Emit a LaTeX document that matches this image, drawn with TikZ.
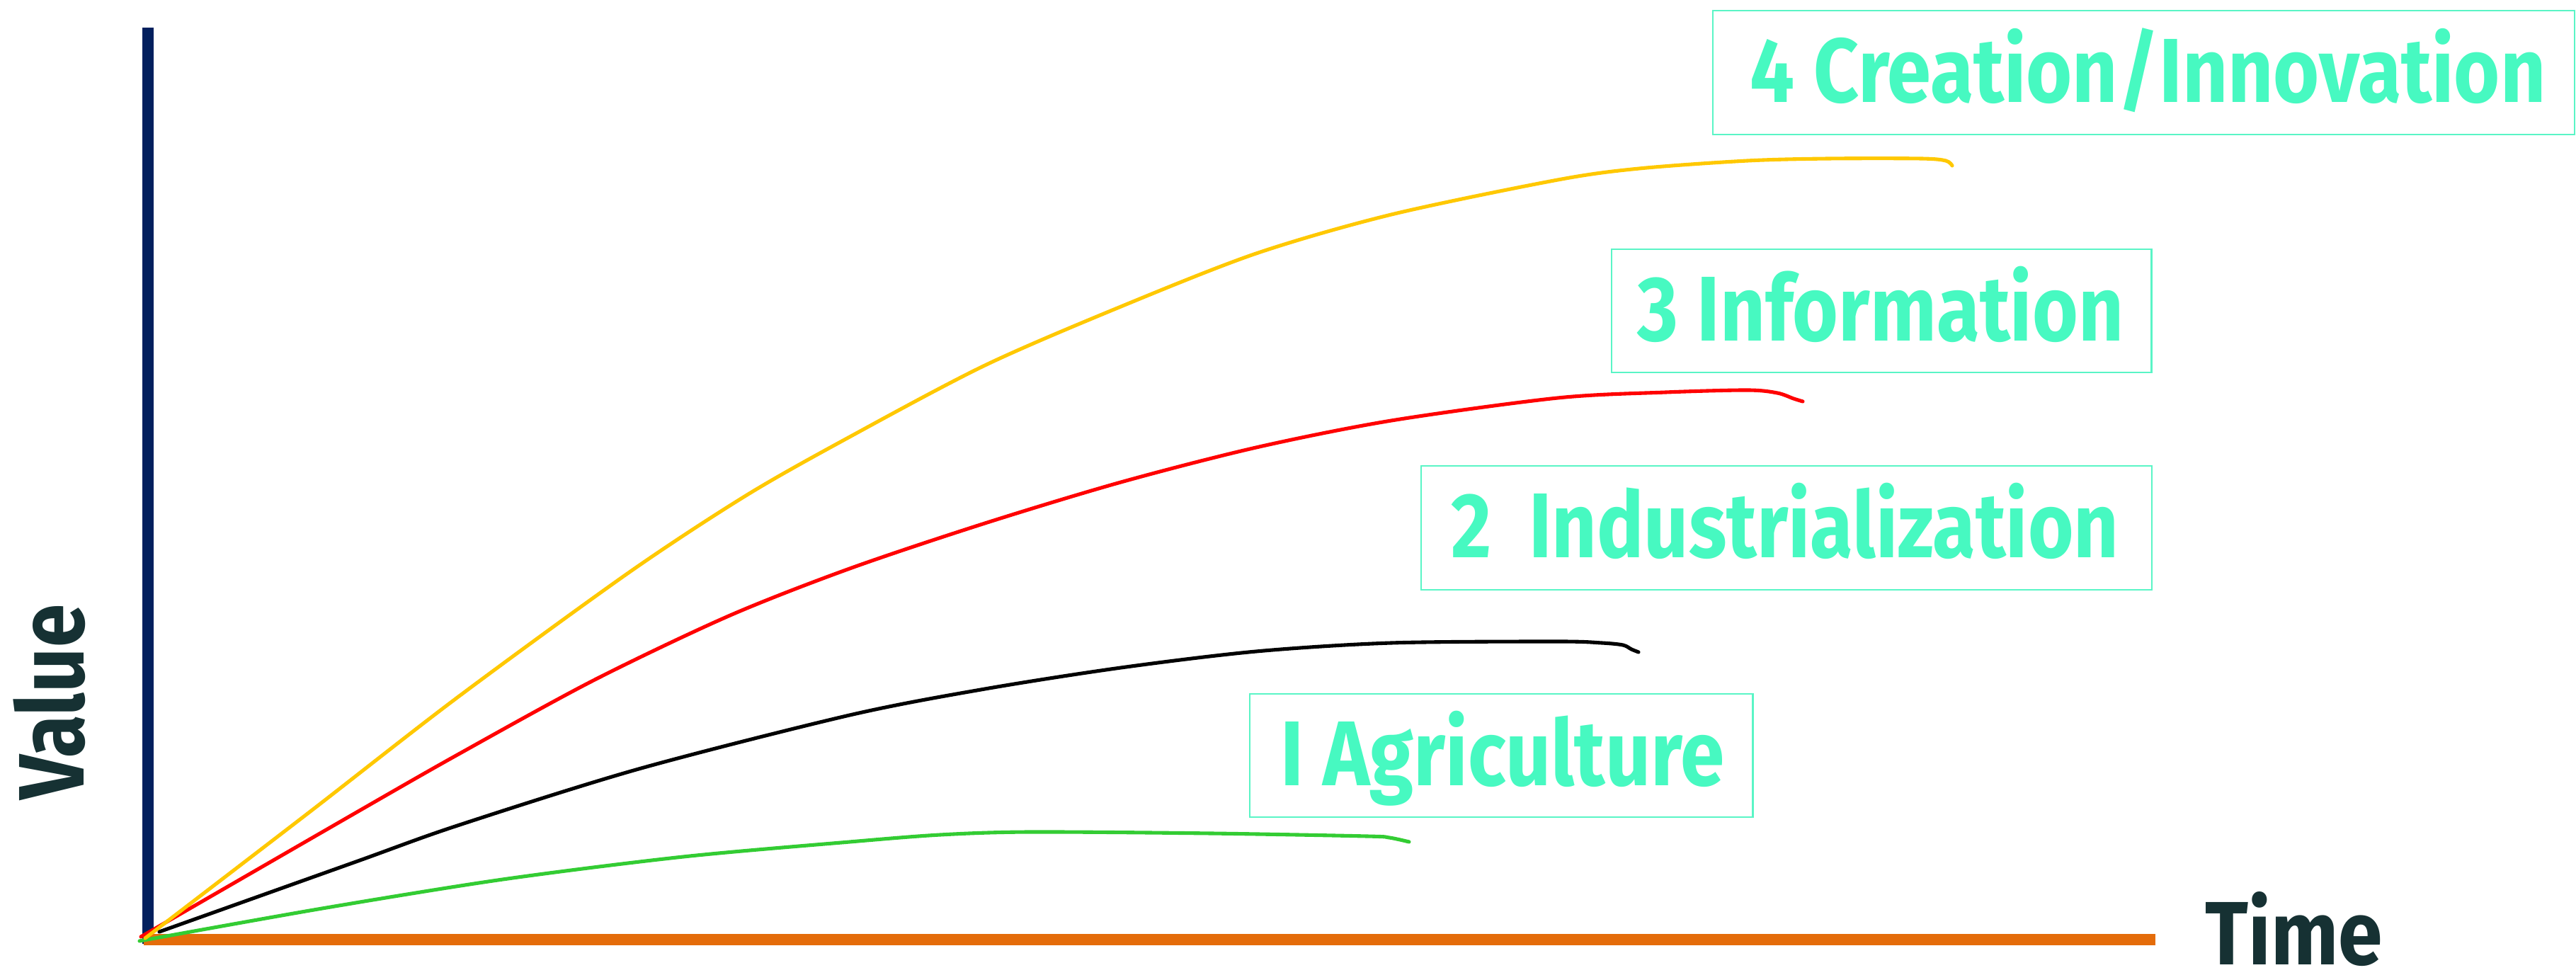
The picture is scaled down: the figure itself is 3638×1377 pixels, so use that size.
\documentclass[tikz,border=0pt]{standalone}
\usepackage{fontspec}
\usepackage{graphicx}
\setmainfont{Fira Sans}
\definecolor{navy}{HTML}{03205E}
\definecolor{axorange}{HTML}{E46C0A}
\definecolor{aqua}{HTML}{47F9C1}
\definecolor{boxline}{HTML}{5AF5C6}
\definecolor{darkteal}{HTML}{163133}
\definecolor{cyellow}{HTML}{FFC800}
\definecolor{cred}{HTML}{FF0000}
\definecolor{cgreen}{HTML}{33CC33}
\newcommand\fitlbl[3]{\resizebox{#1}{#2}{\raisebox{0pt}[\fontcharht\font`H][0pt]{#3}}}
\begin{document}
\begin{tikzpicture}[x=0.01cm,y=-0.01cm,
  labelbox/.style={draw=boxline,line width=0.6pt,inner sep=0pt,anchor=north west},
  labeltext/.style={inner sep=0pt,anchor=base west,text=aqua,font=\bfseries},
  axistext/.style={inner sep=0pt,anchor=base west,text=darkteal,font=\bfseries},
  curve/.style={line width=1.45pt,line cap=round,line join=round}]
\useasboundingbox (0,0) rectangle (3638,1377);
% axes
\coordinate (ytop) at (209,39);
\coordinate (ybot) at (209,1333);
\coordinate (xl) at (203,1327);
\coordinate (xr) at (3044,1327);
\draw[navy,line width=0.16cm] (ytop) -- (ybot);
\draw[axorange,line width=0.16cm] (xl) -- (xr);
% curves
\draw[curve,cgreen] plot[smooth,tension=0.5] coordinates {(197,1329) (455,1283) (710,1242) (965,1210) (1200,1189) (1328,1179) (1455,1175) (1710,1177) (1930,1181) (1962,1183) (1990,1189)};
\draw[curve,black] plot[smooth,tension=0.5] coordinates {(225,1316) (500,1218) (646,1166) (902,1086) (1200,1010) (1391,973) (1583,943) (1774,920) (1965,908) (2200,906) (2262,908) (2292,911) (2304,917) (2314,921)};
\draw[curve,cred] plot[smooth,tension=0.5] coordinates {(199,1323) (497,1151) (646,1066) (838,961) (1029,870) (1200,803) (1391,739) (1583,681) (1774,632) (1965,594) (2200,562) (2353,554) (2468,551) (2510,555) (2533,563) (2546,567)};
\draw[curve,cyellow] plot[smooth,tension=0.5] coordinates {(205,1325) (437,1147) (646,985) (889,808) (1055,699) (1200,617) (1391,516) (1583,433) (1774,358) (1965,303) (2200,254) (2315,238) (2468,227) (2583,224) (2713,224) (2748,227) (2757,234)};
% label boxes
\node[labelbox,minimum width=12.16cm,minimum height=1.75cm] (b4) at (2418,14) {};
\node[labelbox,minimum width=7.62cm,minimum height=1.74cm] (b3) at (2275,351) {};
\node[labelbox,minimum width=10.31cm,minimum height=1.75cm] (b2) at (2006,657) {};
\node[labelbox,minimum width=7.10cm,minimum height=1.74cm] (b1) at (1764,979) {};
% label texts
\node[labeltext] (t4) at (2471,145) {\fitlbl{11.23cm}{0.89cm}{4 Creation/Innovation}};
\node[labeltext] (t3) at (2312,482) {\fitlbl{6.86cm}{0.90cm}{3 Information}};
\node[labeltext] (t2) at (2049,788) {\fitlbl{9.42cm}{0.90cm}{2\ \ Industrialization}};
\node[labeltext] (t1) at (1808,1110) {\fitlbl{6.26cm}{0.90cm}{I Agriculture}};
% axis titles
\node[axistext] (time) at (3114,1363) {\fitlbl{2.50cm}{0.88cm}{Time}};
\node[axistext,rotate=90] (value) at (118,1130) {\fitlbl{2.75cm}{0.91cm}{Value}};
\end{tikzpicture}
\end{document}
